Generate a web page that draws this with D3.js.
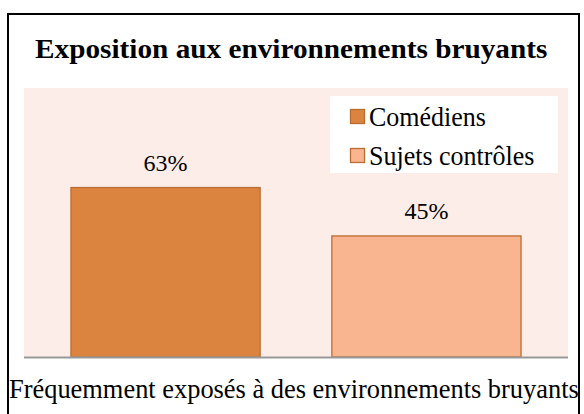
<!DOCTYPE html>
<html><head><meta charset="utf-8">
<script src="https://cdn.jsdelivr.net/npm/d3@7"></script>
<style>body{margin:0;background:#fff}svg{display:block}text{font-family:"Liberation Serif",serif}</style>
</head><body>
<script>
const title = "Exposition aux environnements bruyants";
const category = "Fréquemment exposés à des environnements bruyants";
const series = ["Comédiens", "Sujets contrôles"];
const values = [63, 45];
const labels = ["63%", "45%"];
const colors = ["#DA843F", "#F8B590"];

const W = 584, H = 414;
const svg = d3.select("body").append("svg").attr("width", W).attr("height", H);

// fit a text's font size so it spans a target width
function fit(sel, target) {
  const base = +sel.attr("font-size");
  const w = sel.node().getComputedTextLength();
  sel.attr("font-size", (base * target / w).toFixed(2));
}

// outer frame
svg.append("rect").attr("x", 8).attr("y", 14).attr("width", 571).attr("height", 420)
  .attr("fill", "#fff").attr("stroke", "#000").attr("stroke-width", 2);

const plot = {x0: 24, x1: 568, y0: 88, y1: 357};
svg.append("rect").attr("x", plot.x0).attr("y", plot.y0)
  .attr("width", plot.x1 - plot.x0).attr("height", plot.y1 - plot.y0).attr("fill", "#FCEDE9");

const x = d3.scaleBand().domain(series).range([plot.x0, plot.x1]).paddingInner(0.275).paddingOuter(0.18);
const y = d3.scaleLinear().domain([0, 100]).range([plot.y1, plot.y0]);

svg.selectAll("rect.bar").data(series).join("rect").attr("class", "bar")
  .attr("x", d => x(d)).attr("width", x.bandwidth())
  .attr("y", (d, i) => y(values[i])).attr("height", (d, i) => y(0) - y(values[i]))
  .attr("fill", (d, i) => colors[i]).attr("stroke", "#BC6C30").attr("stroke-width", 1.3);

svg.selectAll("text.lbl").data(series).join("text").attr("class", "lbl")
  .attr("x", d => x(d) + x.bandwidth() / 2).attr("y", (d, i) => y(values[i]) - 17)
  .attr("text-anchor", "middle").attr("font-size", 24)
  .text((d, i) => labels[i]);

// axis line
svg.append("line").attr("x1", plot.x0).attr("x2", plot.x1).attr("y1", y(0) + 0.5).attr("y2", y(0) + 0.5)
  .attr("stroke", "#999").attr("stroke-width", 2);

// title
const t = svg.append("text").attr("transform", "translate(35,58) scale(1,0.93)")
  .attr("font-weight", "bold").attr("font-size", 28).text(title);
fit(t, 512);

// category label
const c = svg.append("text").attr("x", 9).attr("y", 398).attr("font-size", 26).text(category);
fit(c, 570);

// legend
const lg = svg.append("g");
lg.append("rect").attr("x", 330).attr("y", 96).attr("width", 228).attr("height", 77).attr("fill", "#fff");
series.forEach((s, i) => {
  const yy = 109 + i * 39;
  lg.append("rect").attr("x", 350.5).attr("y", yy + 0.5).attr("width", 14).attr("height", 14)
    .attr("fill", colors[i]).attr("stroke", "#BC6C30").attr("stroke-width", 1.3);
  lg.append("text").attr("transform", `translate(369,${yy + 17}) scale(1,1.08)`)
    .attr("font-size", 26).text(s);
});
</script>
</body></html>
